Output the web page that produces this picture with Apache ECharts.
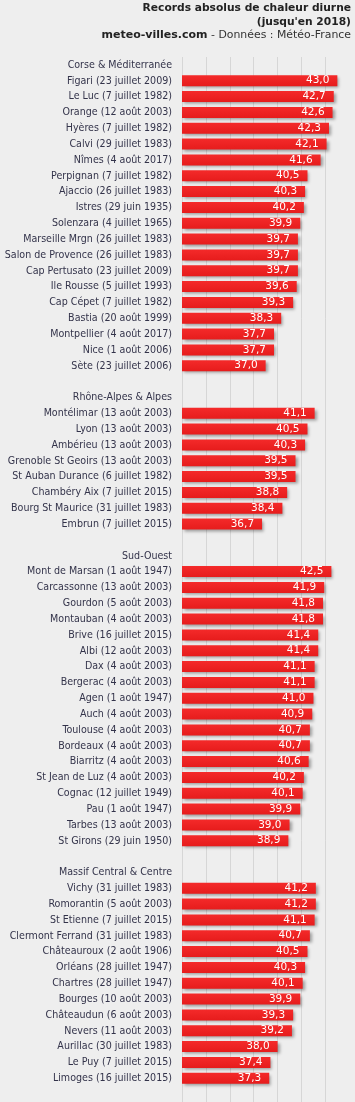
<!DOCTYPE html>
<html>
<head>
<meta charset="utf-8">
<script src="https://cdn.jsdelivr.net/npm/echarts@6/dist/echarts.min.js"></script>
<style>
html,body{margin:0;padding:0;background:#eeeeee;}
#chart{width:355px;height:1102px;}
</style>
</head>
<body>
<div id="chart"></div>
<script>
var titleLines = ['Records absolus de chaleur diurne', '(jusqu\'en 2018)'];
var subtitleSite = 'meteo-villes.com';
var subtitleSource = ' - Données : Météo-France';

var regionNames = ['Corse & Méditerranée', 'Rhône-Alpes & Alpes', 'Sud-Ouest', 'Massif Central & Centre'];

var corseLabels = ['Figari (23 juillet 2009)', 'Le Luc (7 juillet 1982)', 'Orange (12 août 2003)', 'Hyères (7 juillet 1982)', 'Calvi (29 juillet 1983)', 'Nîmes (4 août 2017)', 'Perpignan (7 juillet 1982)', 'Ajaccio (26 juillet 1983)', 'Istres (29 juin 1935)', 'Solenzara (4 juillet 1965)', 'Marseille Mrgn (26 juillet 1983)', 'Salon de Provence (26 juillet 1983)', 'Cap Pertusato (23 juillet 2009)', 'Ile Rousse (5 juillet 1993)', 'Cap Cépet (7 juillet 1982)', 'Bastia (20 août 1999)', 'Montpellier (4 août 2017)', 'Nice (1 août 2006)', 'Sète (23 juillet 2006)'];
var corseValues = [43.0, 42.7, 42.6, 42.3, 42.1, 41.6, 40.5, 40.3, 40.2, 39.9, 39.7, 39.7, 39.7, 39.6, 39.3, 38.3, 37.7, 37.7, 37.0];

var alpesLabels = ['Montélimar (13 août 2003)', 'Lyon (13 août 2003)', 'Ambérieu (13 août 2003)', 'Grenoble St Geoirs (13 août 2003)', 'St Auban Durance (6 juillet 1982)', 'Chambéry Aix (7 juillet 2015)', 'Bourg St Maurice (31 juillet 1983)', 'Embrun (7 juillet 2015)'];
var alpesValues = [41.1, 40.5, 40.3, 39.5, 39.5, 38.8, 38.4, 36.7];

var sudOuestLabels = ['Mont de Marsan (1 août 1947)', 'Carcassonne (13 août 2003)', 'Gourdon (5 août 2003)', 'Montauban (4 août 2003)', 'Brive (16 juillet 2015)', 'Albi (12 août 2003)', 'Dax (4 août 2003)', 'Bergerac (4 août 2003)', 'Agen (1 août 1947)', 'Auch (4 août 2003)', 'Toulouse (4 août 2003)', 'Bordeaux (4 août 2003)', 'Biarritz (4 août 2003)', 'St Jean de Luz (4 août 2003)', 'Cognac (12 juillet 1949)', 'Pau (1 août 1947)', 'Tarbes (13 août 2003)', 'St Girons (29 juin 1950)'];
var sudOuestValues = [42.5, 41.9, 41.8, 41.8, 41.4, 41.4, 41.1, 41.1, 41.0, 40.9, 40.7, 40.7, 40.6, 40.2, 40.1, 39.9, 39.0, 38.9];

var centreLabels = ['Vichy (31 juillet 1983)', 'Romorantin (5 août 2003)', 'St Etienne (7 juillet 2015)', 'Clermont Ferrand (31 juillet 1983)', 'Châteauroux (2 août 1906)', 'Orléans (28 juillet 1947)', 'Chartres (28 juillet 1947)', 'Bourges (10 août 2003)', 'Châteaudun (6 août 2003)', 'Nevers (11 août 2003)', 'Aurillac (30 juillet 1983)', 'Le Puy (7 juillet 2015)', 'Limoges (16 juillet 2015)'];
var centreValues = [41.2, 41.2, 41.1, 40.7, 40.5, 40.3, 40.1, 39.9, 39.3, 39.2, 38.0, 37.4, 37.3];

var axisTicks = [30, 32, 34, 36, 38, 40, 42, 44];

var groups = [
  [corseLabels, corseValues],
  [alpesLabels, alpesValues],
  [sudOuestLabels, sudOuestValues],
  [centreLabels, centreValues]
];
var categories = [];
var values = [];
groups.forEach(function (g, i) {
  if (i > 0) { categories.push(' '); values.push('-'); }
  categories.push(regionNames[i]); values.push('-');
  for (var k = 0; k < g[0].length; k++) { categories.push(g[0][k]); values.push(g[1][k]); }
});
categories.push('  '); values.push('-');

var chart = echarts.init(document.getElementById('chart'), null, {renderer: 'canvas'});
chart.setOption({
  backgroundColor: '#eeeeee',
  animation: false,
  graphic: [
    {type: 'text', x: 351, y: 8.5, style: {text: titleLines[0], align: 'right', verticalAlign: 'middle', font: 'bold 10.7px "DejaVu Sans"', fill: '#222222'}},
    {type: 'text', x: 351, y: 22, style: {text: titleLines[1], align: 'right', verticalAlign: 'middle', font: 'bold 10.7px "DejaVu Sans"', fill: '#222222'}},
    {type: 'text', x: 351, y: 35.3, style: {
      text: '{b|' + subtitleSite + '}{n|' + subtitleSource + '}',
      align: 'right', verticalAlign: 'middle',
      rich: {
        b: {fontFamily: 'DejaVu Sans', fontWeight: 'bold', fontSize: 11, fill: '#222222', color: '#222222'},
        n: {fontFamily: 'DejaVu Sans', fontSize: 10.9, fill: '#333333', color: '#333333'}
      }
    }}
  ],
  grid: {left: 182, top: 57, width: 167.3, height: 1052, containLabel: false},
  xAxis: {
    type: 'value',
    min: axisTicks[0],
    max: axisTicks[axisTicks.length - 1],
    interval: 2,
    axisLabel: {show: false},
    axisLine: {show: false},
    axisTick: {show: false},
    splitLine: {show: true, showMaxLine: false, lineStyle: {color: '#d6d6d6', width: 1}}
  },
  yAxis: {
    type: 'category',
    inverse: true,
    data: categories,
    axisLine: {show: false},
    axisTick: {show: false},
    axisLabel: {
      interval: 0,
      margin: 10,
      fontFamily: 'DejaVu Sans Condensed, Liberation Sans',
      fontSize: 10.6,
      color: '#33334a'
    }
  },
  series: [{
    type: 'bar',
    data: values,
    barWidth: 11,
    itemStyle: {
      color: new echarts.graphic.LinearGradient(0, 0, 0, 1, [
        {offset: 0, color: '#f42a2a'},
        {offset: 1, color: '#e61c1c'}
      ]),
      shadowColor: 'rgba(0,0,0,0.35)',
      shadowBlur: 3,
      shadowOffsetX: 2,
      shadowOffsetY: 2
    },
    label: {
      show: true,
      position: 'insideRight',
      distance: 8,
      color: '#ffffff',
      fontFamily: 'DejaVu Sans',
      fontSize: 10.5,
      formatter: function (p) { return p.value.toFixed(1).replace('.', ','); }
    }
  }]
});
</script>
</body>
</html>
